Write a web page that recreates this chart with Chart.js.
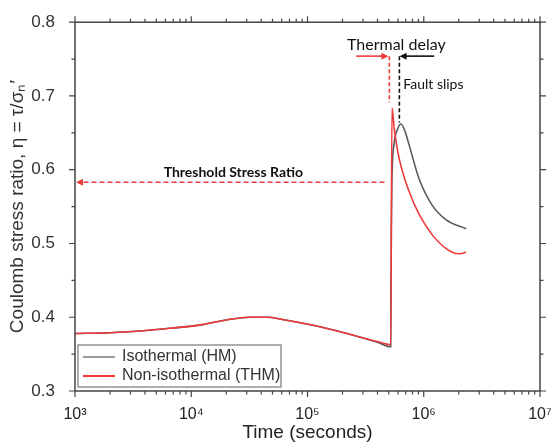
<!DOCTYPE html>
<html>
<head>
<meta charset="utf-8">
<script src="https://cdn.jsdelivr.net/npm/chart.js@4"></script>
<style>
  html, body { margin: 0; padding: 0; background: #fff; }
  #chart { display: block; }
</style>
</head>
<body>
<canvas id="chart" width="551" height="448"></canvas>
<script>
// Coulomb stress ratio vs time, isothermal vs non-isothermal

// Isothermal (HM) series
const hmTime  = [1e3, 2e3, 3.4e3, 6.5e3, 1.25e4, 2.1e4, 3.2e4, 4.5e4, 6.1e4, 1.2e5, 2.3e5, 4e5, 5.2e5, 5.26e5, 5.32e5, 5.58e5, 5.95e5, 6.37e5, 6.9e5, 7.5e5, 9.15e5, 1.18e6, 1.56e6, 2.32e6];
const hmRatio = [0.378, 0.379, 0.381, 0.385, 0.390, 0.397, 0.400, 0.400, 0.397, 0.388, 0.377, 0.366, 0.360, 0.520, 0.585, 0.637, 0.655, 0.662, 0.652, 0.633, 0.587, 0.552, 0.532, 0.520];

// Non-isothermal (THM) series
const thmTime  = [1e3, 2e3, 3.4e3, 6.5e3, 1.25e4, 2.1e4, 3.2e4, 4.5e4, 6.1e4, 1.2e5, 2.3e5, 4e5, 5.2e5, 5.33e5, 5.58e5, 6.17e5, 7.5e5, 9.15e5, 1.18e6, 1.56e6, 1.98e6, 2.32e6];
const thmRatio = [0.378, 0.379, 0.381, 0.385, 0.390, 0.397, 0.400, 0.400, 0.397, 0.388, 0.377, 0.367, 0.363, 0.684, 0.655, 0.614, 0.570, 0.539, 0.512, 0.493, 0.486, 0.488];

const seriesLabels = ['Isothermal (HM)', 'Non-isothermal (THM)'];

// axis ticks
const xDecades = [1e3, 1e4, 1e5, 1e6, 1e7];
const yMajor = [0.3, 0.4, 0.5, 0.6, 0.7, 0.8];
const yMinor = [0.35, 0.45, 0.55, 0.65, 0.75];

// annotation anchors (data coordinates)
const thresholdRatio = 0.583;
const thresholdFrom = 4.6e5;
const thresholdLabelAt = [2.3e4, 0.596];
const delayArrowY = 0.754;
const thermalArrow = [2.63e5, 4.96e5];
const thermalDrop = [5.06e5, 0.691];
const slipArrow = [1.23e6, 6.2e5];
const slipDrop = [6.17e5, 0.664];
const thermalLabelAt = [5.81e5, 0.769];
const slipLabelAt = [6.67e5, 0.715];

const GRAY = '#5a5a5a';
const RED = '#ee3a3a';
const AXIS = '#444';
const SANS = '"Liberation Sans", Arial, sans-serif';

function points(xs, ys) {
    return xs.map((x, i) => ({ x: x, y: ys[i] }));
}

const superDigits = { '0': '\u2070', '1': '\u00b9', '2': '\u00b2', '3': '\u00b3', '4': '\u2074', '5': '\u2075', '6': '\u2076', '7': '\u2077', '8': '\u2078', '9': '\u2079' };

function arrowHead(ctx, x, y, dir, color) {
    ctx.save();
    ctx.fillStyle = color;
    ctx.beginPath();
    ctx.moveTo(x, y);
    ctx.lineTo(x - dir * 7, y - 3.5);
    ctx.lineTo(x - dir * 7, y + 3.5);
    ctx.closePath();
    ctx.fill();
    ctx.restore();
}

// frame, tick marks, legend and annotations
const decorations = {
    id: 'decorations',
    afterDraw(chart) {
        const ctx = chart.ctx;
        const xs = chart.scales.x;
        const ys = chart.scales.y;
        const a = chart.chartArea;

        ctx.save();
        ctx.strokeStyle = AXIS;
        ctx.lineWidth = 1.5;
        ctx.strokeRect(a.left, a.top, a.right - a.left, a.bottom - a.top);

        ctx.lineWidth = 1.2;
        ctx.beginPath();
        // x ticks top and bottom
        for (let e = 3; e <= 7; e++) {
            for (let k = 1; k <= 9; k++) {
                const v = k * Math.pow(10, e);
                if (v > 1e7) break;
                const px = xs.getPixelForValue(v);
                const len = k === 1 ? 6 : 3.5;
                ctx.moveTo(px, a.bottom); ctx.lineTo(px, a.bottom + len);
                ctx.moveTo(px, a.top); ctx.lineTo(px, a.top - len);
            }
        }
        // y ticks left and right
        yMajor.concat(yMinor).forEach(v => {
            const py = ys.getPixelForValue(v);
            const len = yMajor.includes(v) ? 6 : 3.5;
            ctx.moveTo(a.left, py); ctx.lineTo(a.left - len, py);
            ctx.moveTo(a.right, py); ctx.lineTo(a.right + len, py);
        });
        ctx.stroke();
        ctx.restore();

        // legend box
        ctx.save();
        const lx = a.left + 3, ly = a.bottom - 46;
        ctx.strokeStyle = '#777';
        ctx.lineWidth = 1.2;
        ctx.strokeRect(lx, ly, 203, 42);
        ctx.lineWidth = 1.2;
        ctx.strokeStyle = GRAY;
        ctx.beginPath(); ctx.moveTo(lx + 5, ly + 12); ctx.lineTo(lx + 37, ly + 12); ctx.stroke();
        ctx.lineWidth = 2;
        ctx.strokeStyle = RED;
        ctx.beginPath(); ctx.moveTo(lx + 5, ly + 31); ctx.lineTo(lx + 37, ly + 31); ctx.stroke();
        ctx.fillStyle = '#333';
        ctx.font = '16px ' + SANS;
        ctx.textBaseline = 'middle';
        ctx.fillText(seriesLabels[0], lx + 44, ly + 12);
        ctx.fillText(seriesLabels[1], lx + 44, ly + 31);
        ctx.restore();

        // threshold arrow
        ctx.save();
        const ty = ys.getPixelForValue(thresholdRatio);
        ctx.strokeStyle = RED;
        ctx.lineWidth = 1.6;
        ctx.setLineDash([5, 3]);
        ctx.beginPath();
        ctx.moveTo(xs.getPixelForValue(thresholdFrom), ty);
        ctx.lineTo(a.left + 5, ty);
        ctx.stroke();
        ctx.setLineDash([]);
        arrowHead(ctx, a.left + 1, ty, -1, RED);

        // thermal delay arrow (red)
        const ay = ys.getPixelForValue(delayArrowY);
        ctx.lineWidth = 1.6;
        ctx.beginPath();
        ctx.moveTo(xs.getPixelForValue(thermalArrow[0]), ay);
        ctx.lineTo(xs.getPixelForValue(thermalArrow[1]) - 5, ay);
        ctx.stroke();
        arrowHead(ctx, xs.getPixelForValue(thermalArrow[1]), ay, 1, RED);
        ctx.setLineDash([4, 2.5]);
        ctx.beginPath();
        ctx.moveTo(xs.getPixelForValue(thermalDrop[0]), ay);
        ctx.lineTo(xs.getPixelForValue(thermalDrop[0]), ys.getPixelForValue(thermalDrop[1]));
        ctx.stroke();

        // fault slip arrow (black)
        ctx.strokeStyle = '#111';
        ctx.beginPath();
        ctx.moveTo(xs.getPixelForValue(slipDrop[0]), ay);
        ctx.lineTo(xs.getPixelForValue(slipDrop[0]), ys.getPixelForValue(slipDrop[1]));
        ctx.stroke();
        ctx.setLineDash([]);
        ctx.beginPath();
        ctx.moveTo(xs.getPixelForValue(slipArrow[0]), ay);
        ctx.lineTo(xs.getPixelForValue(slipArrow[1]) + 5, ay);
        ctx.stroke();
        arrowHead(ctx, xs.getPixelForValue(slipArrow[1]), ay, -1, '#111');

        // annotation text
        ctx.fillStyle = '#111';
        ctx.textBaseline = 'middle';
        ctx.textAlign = 'center';
        ctx.font = 'bold 14px Lato, "Open Sans", sans-serif';
        ctx.fillText('Threshold Stress Ratio', xs.getPixelForValue(thresholdLabelAt[0]), ys.getPixelForValue(thresholdLabelAt[1]));
        ctx.font = '16px Lato, "Open Sans", sans-serif';
        ctx.fillText('Thermal delay', xs.getPixelForValue(thermalLabelAt[0]), ys.getPixelForValue(thermalLabelAt[1]));
        ctx.textAlign = 'left';
        ctx.font = '14px Lato, "Open Sans", sans-serif';
        ctx.fillText('Fault slips', xs.getPixelForValue(slipLabelAt[0]), ys.getPixelForValue(slipLabelAt[1]));
        ctx.restore();
    }
};

const chart = new Chart(document.getElementById('chart').getContext('2d'), {
    type: 'line',
    data: {
        datasets: [
            {
                label: seriesLabels[0],
                data: points(hmTime, hmRatio),
                borderColor: GRAY,
                borderWidth: 1.6,
                pointRadius: 0,
                cubicInterpolationMode: 'monotone',
                fill: false,
                order: 2
            },
            {
                label: seriesLabels[1],
                data: points(thmTime, thmRatio),
                borderColor: RED,
                borderWidth: 1.6,
                pointRadius: 0,
                cubicInterpolationMode: 'monotone',
                fill: false,
                order: 1
            }
        ]
    },
    options: {
        responsive: false,
        animation: false,
        layout: { padding: { top: 19, right: 11, left: 0, bottom: 0 } },
        scales: {
            x: {
                type: 'logarithmic',
                min: 1e3,
                max: 1e7,
                afterFit: s => { s.height = 57; s.paddingLeft = 0; s.paddingRight = 0; },
                afterBuildTicks: s => { s.ticks = xDecades.map(v => ({ value: v })); },
                grid: { display: false },
                border: { display: false },
                ticks: {
                    autoSkip: false,
                    maxRotation: 0,
                    padding: 6,
                    color: '#222',
                    font: { family: SANS, size: 16 },
                    callback: v => {
                        const e = Math.round(Math.log10(v));
                        return '10' + String(e).split('').map(d => superDigits[d]).join('');
                    }
                },
                title: {
                    display: true,
                    text: 'Time (seconds)',
                    color: '#222',
                    padding: { top: 0 },
                    font: { family: SANS, size: 19 }
                }
            },
            y: {
                min: 0.3,
                max: 0.8,
                afterFit: s => { s.width = 75; },
                afterBuildTicks: s => { s.ticks = yMajor.map(v => ({ value: v })); },
                grid: { display: false },
                border: { display: false },
                ticks: {
                    padding: 12,
                    color: '#333',
                    font: { family: SANS, size: 17 },
                    callback: v => v.toFixed(1)
                },
                title: {
                    display: true,
                    text: 'Coulomb stress ratio, \u03b7 = \u03c4/\u03c3\u2099\u2032',
                    color: '#333',
                    padding: { top: 6, bottom: 0 },
                    font: { family: SANS, size: 19 }
                }
            }
        },
        plugins: {
            legend: { display: false },
            tooltip: { enabled: false }
        }
    },
    plugins: [decorations]
});
</script>
</body>
</html>
